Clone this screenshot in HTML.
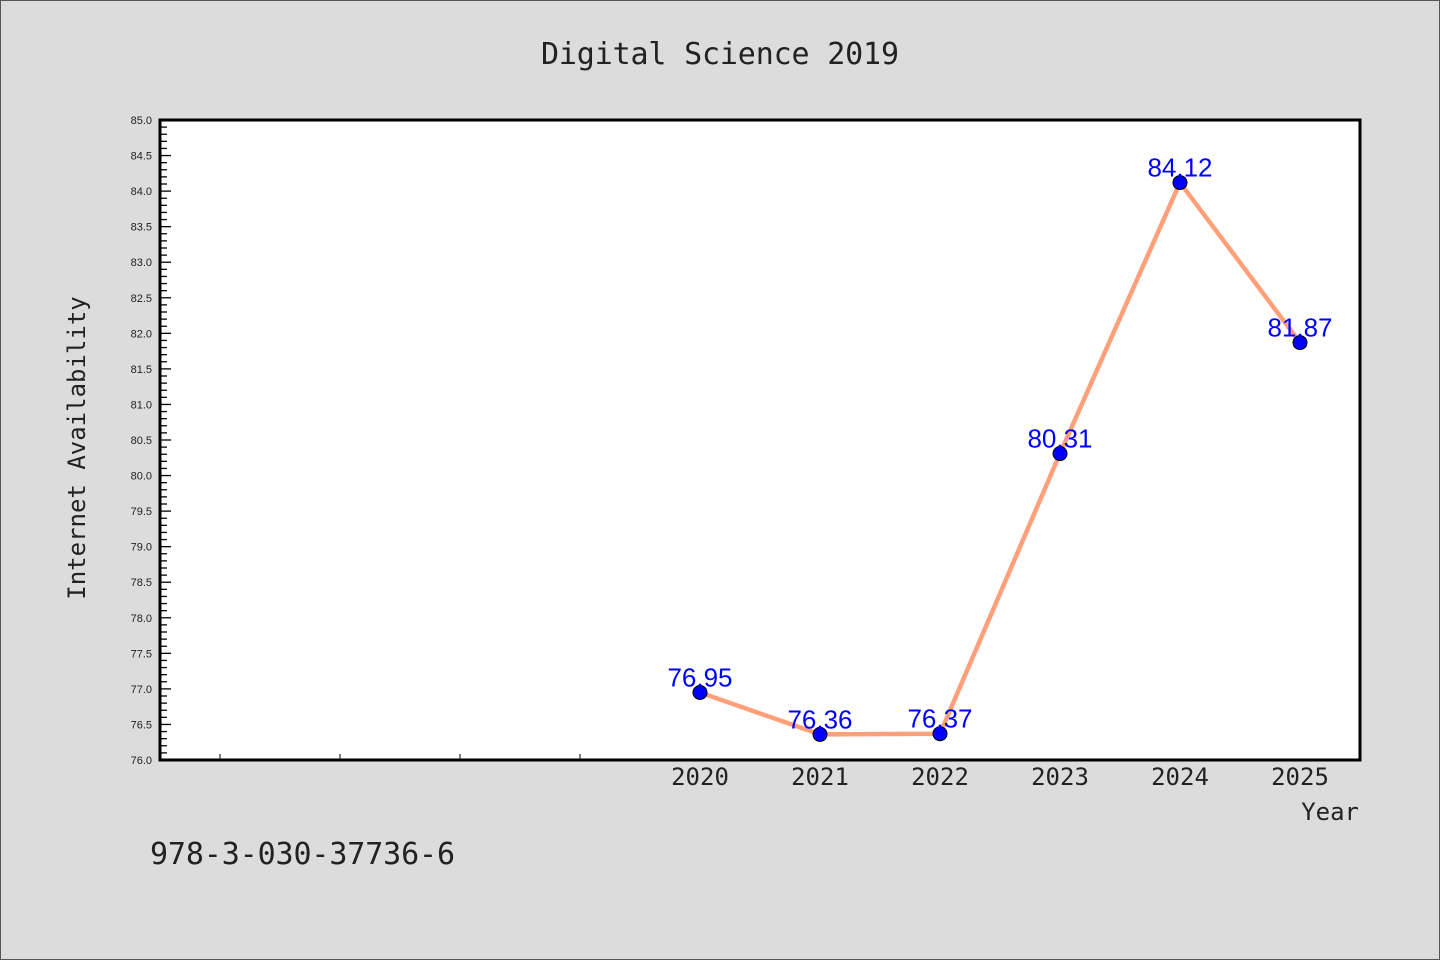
<!DOCTYPE html>
<html><head><meta charset="utf-8"><style>
html,body{margin:0;padding:0;background:#dcdcdc;}
svg{display:block;}
</style></head><body>
<svg id="chart" width="1440" height="960" viewBox="0 0 1440 960" xmlns="http://www.w3.org/2000/svg">
<rect x="0.5" y="0.5" width="1439" height="959" fill="#dcdcdc" stroke="#555" stroke-width="1"/>
<text x="720" y="64" text-anchor="middle" font-family="'WenQuanYi Zen Hei Mono','WenQuanYi Zen Hei',monospace" font-size="30" fill="#222" textLength="358" lengthAdjust="spacing">Digital Science 2019</text>
<rect x="160" y="120" width="1200" height="640" fill="#fff"/>
<g id="yticks"></g>
<g id="xticks"></g>
<rect x="160" y="120" width="1200" height="640" fill="none" stroke="#000" stroke-width="3"/>
<g id="series"></g>
<text transform="translate(85,448) rotate(-90)" text-anchor="middle" font-family="'WenQuanYi Zen Hei Mono','WenQuanYi Zen Hei',monospace" font-size="24" fill="#222">Internet Availability</text>
<text x="1359" y="820" text-anchor="end" font-family="'WenQuanYi Zen Hei Mono','WenQuanYi Zen Hei',monospace" font-size="24" fill="#222">Year</text>
<text x="150" y="864" font-family="'WenQuanYi Zen Hei Mono','WenQuanYi Zen Hei',monospace" font-size="30" fill="#222" textLength="305" lengthAdjust="spacing">978-3-030-37736-6</text>
</svg>
<script>
const years = [2020, 2021, 2022, 2023, 2024, 2025];
const values = [76.95, 76.36, 76.37, 80.31, 84.12, 81.87];
const valueLabels = ["76.95", "76.36", "76.37", "80.31", "84.12", "81.87"];
const yTickLabels = ["76.0","76.5","77.0","77.5","78.0","78.5","79.0","79.5","80.0","80.5","81.0","81.5","82.0","82.5","83.0","83.5","84.0","84.5","85.0"];
const minorYears = [2016, 2017, 2018, 2019];
const yMin = 76, yMax = 85, xMin = 2015.5, xMax = 2025.5;
const NS = "http://www.w3.org/2000/svg";
function xs(v){ return 160 + (v - xMin) / (xMax - xMin) * 1200; }
function ys(v){ return 760 - (v - yMin) / (yMax - yMin) * 640; }
function mk(tag, attrs, parent){ const e = document.createElementNS(NS, tag); for (const k in attrs) e.setAttribute(k, attrs[k]); parent.appendChild(e); return e; }
const yg = document.getElementById('yticks');
for (let i = 0; i <= 90; i++) {
  const v = yMin + i * 0.1, y = ys(v), major = i % 5 === 0;
  const t = mk('line', {x1:160, x2: major ? 171 : 167, y1:y, y2:y, stroke:'#000', 'stroke-width':1.3}, yg);
  
  
}
yTickLabels.forEach(function(l){
  const t = mk('text', {x:152, y: ys(parseFloat(l)) + 4, 'text-anchor':'end', 'font-family':'Liberation Sans, sans-serif', 'font-size':11, fill:'#222'}, yg);
  t.textContent = l;
  
  
});
const xg = document.getElementById('xticks');
minorYears.forEach(function(yr){
  const t = mk('line', {x1:xs(yr), x2:xs(yr), y1:760, y2:754, stroke:'#000', 'stroke-width':1}, xg);
  
  
});
years.forEach(function(yr){
  const t = mk('text', {x:xs(yr), y:785, 'text-anchor':'middle', 'font-family':"'WenQuanYi Zen Hei Mono','WenQuanYi Zen Hei',monospace", 'font-size':24, fill:'#222'}, xg);
  t.textContent = String(yr);
  
  
});
const sg = document.getElementById('series');
const pts = years.map(function(yr, i){ return xs(yr) + ',' + ys(values[i]); }).join(' ');
const line = mk('polyline', {points: pts, fill:'none', stroke:'#ffa07a', 'stroke-width':4.5, 'stroke-linejoin':'round'}, sg);


years.forEach(function(yr, i){
  const c = mk('circle', {cx: xs(yr), cy: ys(values[i]), r: 7, fill:'#0000ff', stroke:'#000', 'stroke-width':1}, sg);
  
  
});
years.forEach(function(yr, i){
  const t = mk('text', {x: xs(yr), y: ys(values[i]) - 6, 'text-anchor':'middle', 'font-family':'Liberation Sans, sans-serif', 'font-size':26, fill:'#0000ff'}, sg);
  t.textContent = valueLabels[i];
  
  
});
</script>
</body></html>
